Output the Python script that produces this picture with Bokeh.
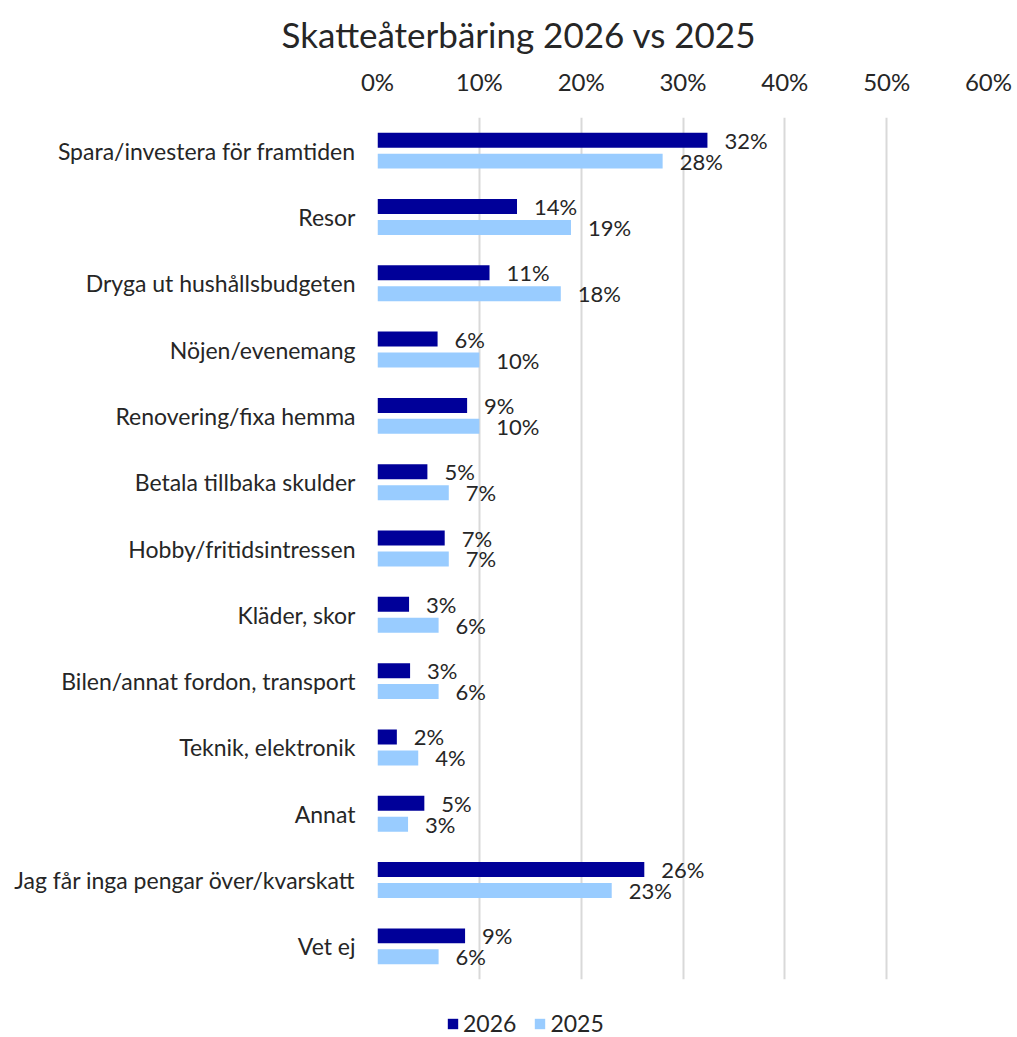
from bokeh.plotting import figure
from bokeh.layouts import column
from bokeh.models import (ColumnDataSource, FactorRange, Range1d, FixedTicker,
                          NumeralTickFormatter, Legend, LegendItem)
from bokeh.transform import dodge
from bokeh.embed import file_html
from bokeh.resources import INLINE
from bokeh.core.properties import value

categories = [
    "Spara/investera för framtiden",
    "Resor",
    "Dryga ut hushållsbudgeten",
    "Nöjen/evenemang",
    "Renovering/fixa hemma",
    "Betala tillbaka skulder",
    "Hobby/fritidsintressen",
    "Kläder, skor",
    "Bilen/annat fordon, transport",
    "Teknik, elektronik",
    "Annat",
    "Jag får inga pengar över/kvarskatt",
    "Vet ej",
]
v2026 = [0.324, 0.137, 0.110, 0.059, 0.088, 0.049, 0.066, 0.031, 0.032, 0.019, 0.046, 0.262, 0.086]
v2025 = [0.280, 0.190, 0.180, 0.100, 0.100, 0.070, 0.070, 0.060, 0.060, 0.040, 0.030, 0.230, 0.060]
x_ticks = [0, 0.1, 0.2, 0.3, 0.4, 0.5, 0.6]
series = ["2026", "2025"]

FONT = "Lato"
TXT = "#262626"
C2026 = "#000099"
C2025 = "#99CCFF"

src = ColumnDataSource(dict(
    cat=categories,
    v2026=v2026,
    v2025=v2025,
    l2026=[f"{v*100:.0f}%" for v in v2026],
    l2025=[f"{v*100:.0f}%" for v in v2025],
))

W = 1017
H_MAIN, H_LEG = 1000, 37
BL, BR = 377, 29
p = figure(
    width=W, height=H_MAIN,
    y_range=FactorRange(*categories[::-1], range_padding=0),
    x_range=Range1d(0, 0.6),
    x_axis_location="above",
    output_backend="svg",
    toolbar_location=None,
    min_border_left=BL, min_border_right=BR,
    min_border_top=117, min_border_bottom=21,
)
p.outline_line_color = None

p.title.text = "Skatteåterbäring 2026 vs 2025"
p.title.text_font = FONT
p.title.text_font_size = "35px"
p.title.text_font_style = "normal"
p.title.text_color = TXT
p.title.align = "left"
p.title.offset = -96
p.title.standoff = 18

p.hbar(y=dodge("cat", 0.158, range=p.y_range), right="v2026", left=0,
       height=0.226, source=src, fill_color=C2026, line_color=None)
p.hbar(y=dodge("cat", -0.158, range=p.y_range), right="v2025", left=0,
       height=0.226, source=src, fill_color=C2025, line_color=None)

p.text(x="v2026", y=dodge("cat", 0.158, range=p.y_range), text="l2026", source=src,
       x_offset=17, text_baseline="middle", text_align="left",
       text_font=value(FONT), text_font_size="22px", text_color=TXT)
p.text(x="v2025", y=dodge("cat", -0.158, range=p.y_range), text="l2025", source=src,
       x_offset=17, text_baseline="middle", text_align="left",
       text_font=value(FONT), text_font_size="22px", text_color=TXT)

xa = p.xaxis[0]
xa.ticker = FixedTicker(ticks=x_ticks)
xa.formatter = NumeralTickFormatter(format="0%")
xa.axis_line_color = None
xa.major_tick_line_color = None
xa.minor_tick_line_color = None
xa.major_tick_out = 0
xa.major_tick_in = 0
xa.major_label_text_font = FONT
xa.major_label_text_font_size = "24px"
xa.major_label_text_color = TXT
xa.major_label_standoff = 22

ya = p.yaxis[0]
ya.axis_line_color = None
ya.major_tick_line_color = None
ya.minor_tick_line_color = None
ya.major_tick_out = 0
ya.major_tick_in = 0
ya.major_label_text_font = FONT
ya.major_label_text_font_size = "23px"
ya.major_label_text_color = TXT
ya.major_label_standoff = 22

p.xgrid.grid_line_color = "#D9D9D9"
p.xgrid.grid_line_width = 2
p.xgrid.ticker = FixedTicker(ticks=x_ticks)
p.ygrid.grid_line_color = None

# legend strip below the chart (frame aligned with the main chart)
pl = figure(
    width=W, height=H_LEG,
    x_range=Range1d(0, 1), y_range=Range1d(0, 1),
    output_backend="svg", toolbar_location=None,
    min_border_left=BL, min_border_right=BR, min_border_top=0, min_border_bottom=0,
)
pl.axis.visible = False
pl.grid.visible = False
pl.outline_line_color = None
d1 = pl.hbar(y=[-10], right=[1], left=[0], height=1, fill_color=C2026, line_color=None)
d2 = pl.hbar(y=[-10], right=[1], left=[0], height=1, fill_color=C2025, line_color=None)

legend = Legend(
    items=[LegendItem(label=series[0], renderers=[d1]),
           LegendItem(label=series[1], renderers=[d2])],
    orientation="horizontal",
    location=(69, 0),
    label_text_font=FONT, label_text_font_size="23px", label_text_color=TXT,
    glyph_width=13, glyph_height=13, spacing=17, label_standoff=4,
    padding=0, margin=0,
    border_line_color=None, background_fill_alpha=0,
)
pl.add_layout(legend, "center")

layout = column(p, pl, spacing=0)
open("out.html", "w").write(file_html(layout, INLINE))
